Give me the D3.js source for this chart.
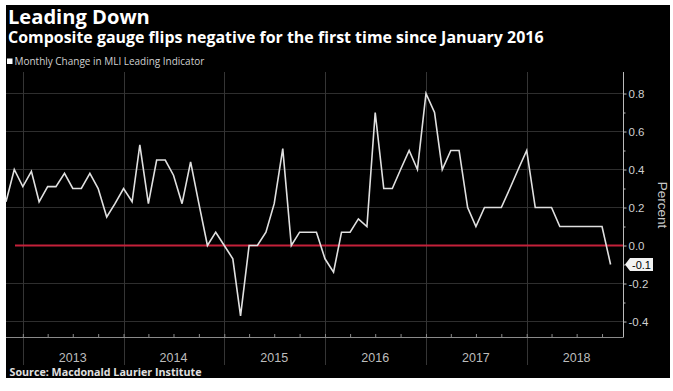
<!DOCTYPE html>
<html><head><meta charset="utf-8">
<script src="https://cdn.jsdelivr.net/npm/d3@7"></script>
<style>body{margin:0;background:#fff}svg{display:block}</style>
</head><body><svg id="c" width="673" height="391"></svg>
<script>
// ---- data ----
const firstMonth = "2012-11";
const values = [
  0.23, 0.40,                                                        // 2012 Nov-Dec
  0.31, 0.39, 0.23, 0.31, 0.31, 0.38, 0.30, 0.30, 0.38, 0.30, 0.15, 0.22, // 2013
  0.30, 0.23, 0.53, 0.22, 0.45, 0.45, 0.37, 0.22, 0.44, 0.22, 0.00, 0.07, // 2014
  0.00, -0.07, -0.37, 0.00, 0.00, 0.07, 0.22, 0.51, 0.00, 0.07, 0.07, 0.07, // 2015
  -0.07, -0.14, 0.07, 0.07, 0.14, 0.10, 0.70, 0.30, 0.30, 0.40, 0.50, 0.40, // 2016
  0.80, 0.70, 0.40, 0.50, 0.50, 0.20, 0.10, 0.20, 0.20, 0.20, 0.30, 0.40, // 2017
  0.50, 0.20, 0.20, 0.20, 0.10, 0.10, 0.10, 0.10, 0.10, 0.10, -0.10        // 2018 Jan-Nov
];
const yearLabels = ["2013", "2014", "2015", "2016", "2017", "2018"];
const yMajorTicks = [-0.4, -0.2, 0.0, 0.2, 0.4, 0.6, 0.8];
const yMinorTicks = [-0.3, -0.1, 0.1, 0.3, 0.5, 0.7];
const seriesName = "Monthly Change in MLI Leading Indicator";
const lastLabel = "-0.1";

// ---- layout ----
const svg = d3.select("#c");
const W = 673, H = 391;
const panel = {x: 6, y: 5, w: 664, h: 373};
const plot = {left: 6, right: 623, top: 72, bottom: 337};

svg.append("rect").attr("width", W).attr("height", H).attr("fill", "#fff");
svg.append("rect").attr("x", panel.x).attr("y", panel.y).attr("width", panel.w).attr("height", panel.h).attr("fill", "#000");

const parse = d3.timeParse("%Y-%m");
const start = parse(firstMonth);
const dates = values.map((v, i) => d3.timeMonth.offset(start, i));
const data = dates.map((d, i) => ({date: d, value: values[i]}));

const x = d3.scaleTime()
  .domain([start, new Date(2018, 11, 16)])
  .range([plot.left, plot.right]);
const y = d3.scaleLinear().domain([-0.4, 0.8]).range([321.5, 93.5]);

const FONT = "'Open Sans', 'DejaVu Sans', sans-serif";

// horizontal grid
svg.append("g").selectAll("line").data(yMajorTicks.filter(d => d !== 0)).join("line")
  .attr("x1", plot.left).attr("x2", plot.right)
  .attr("y1", d => y(d)).attr("y2", d => y(d))
  .attr("stroke", "#2e2e2e").attr("stroke-width", 1);

// year dividers
const yearStarts = yearLabels.map(s => new Date(+s, 0, 1));
svg.append("g").selectAll("line").data(yearStarts).join("line")
  .attr("x1", d => Math.round(x(d)) + 0.5).attr("x2", d => Math.round(x(d)) + 0.5)
  .attr("y1", plot.top).attr("y2", 365)
  .attr("stroke", "#353535").attr("stroke-width", 1);

// x axis line with quarter ticks
const xAxis = d3.axisBottom(x)
  .tickValues(d3.timeMonth.every(3).range(new Date(2013, 0, 1), new Date(2018, 11, 1)))
  .tickSize(-3).tickFormat("");
const gx = svg.append("g").attr("transform", `translate(0,${plot.bottom})`).call(xAxis);
gx.select(".domain").attr("stroke", "#8a8a8a").attr("d", `M${plot.left},0.5H${plot.right}`);
gx.selectAll(".tick line").attr("stroke", "#8a8a8a");

// year labels
svg.append("g").selectAll("text").data(yearLabels).join("text")
  .attr("x", d => x(new Date(+d, 6, 1)))
  .attr("y", 361.5)
  .attr("text-anchor", "middle")
  .attr("font-family", "'Liberation Sans', Arial, sans-serif")
  .attr("font-size", 12.5)
  .attr("fill", "#bdbdbd")
  .text(d => d);

// zero line
svg.append("line")
  .attr("x1", 15).attr("x2", plot.right)
  .attr("y1", y(0)).attr("y2", y(0))
  .attr("stroke", "#c4213a").attr("stroke-width", 1.8);

// series line
svg.append("path").datum(data)
  .attr("fill", "none").attr("stroke", "#e0e0e0").attr("stroke-width", 1.6)
  .attr("stroke-linejoin", "miter")
  .attr("d", d3.line().x(d => x(d.date)).y(d => y(d.value)));

// y axis (right)
const gyMinor = svg.append("g").attr("transform", `translate(${plot.right},0)`)
  .call(d3.axisRight(y).tickValues(yMinorTicks).tickSize(2.5).tickFormat(""));
gyMinor.select(".domain").remove();
gyMinor.selectAll(".tick line").attr("stroke", "#bbb");

const gy = svg.append("g").attr("transform", `translate(${plot.right},0)`)
  .call(d3.axisRight(y).tickValues(yMajorTicks).tickSize(3.5).tickPadding(2)
    .tickFormat(d => d.toFixed(1)));
gy.select(".domain").attr("stroke", "#bbb").attr("d", `M0.5,${plot.top}V${plot.bottom + 0.5}`);
gy.selectAll(".tick line").attr("stroke", "#bbb");
gy.selectAll(".tick text").attr("fill", "#d0d0d0")
  .attr("font-family", "'Liberation Sans', Arial, sans-serif").attr("font-size", 11.5);

// axis title
svg.append("text")
  .attr("transform", `translate(658,205) rotate(90)`)
  .attr("text-anchor", "middle")
  .attr("font-family", "'Liberation Sans', Arial, sans-serif")
  .attr("font-size", 13.5).attr("fill", "#c8c8c8")
  .text("Percent");

// last value label
const last = data[data.length - 1];
const ly = y(last.value);
svg.append("path")
  .attr("d", `M625,${ly} L630,${ly - 6.5} H653 V${ly + 6.5} H630 Z`)
  .attr("fill", "#f2f2f2");
svg.append("text")
  .attr("x", 641.5).attr("y", ly + 4)
  .attr("text-anchor", "middle")
  .attr("font-family", "'Liberation Sans', Arial, sans-serif")
  .attr("font-size", 11).attr("fill", "#000")
  .text(lastLabel);

// text helpers: fit a text to a target width
function fitWidth(sel, target) {
  const w = sel.node().getComputedTextLength();
  const fs = parseFloat(sel.attr("font-size"));
  sel.attr("font-size", (fs * target / w).toFixed(2));
}

// titles
const t1 = svg.append("text").attr("x", 8).attr("y", 23.5)
  .attr("font-family", FONT).attr("font-weight", "bold").attr("font-size", 19)
  .attr("fill", "#fff").text("Leading Down");
fitWidth(t1, 142);
const t2 = svg.append("text").attr("x", 8).attr("y", 42.5)
  .attr("font-family", FONT).attr("font-weight", "bold").attr("font-size", 14)
  .attr("fill", "#fff").text("Composite gauge flips negative for the first time since January 2016");
fitWidth(t2, 536);

// legend
svg.append("rect").attr("x", 7).attr("y", 58.5).attr("width", 5.5).attr("height", 5.5).attr("fill", "#fff");
const lt = svg.append("text").attr("x", 14.5).attr("y", 64.5)
  .attr("font-family", FONT).attr("font-size", 9.5)
  .attr("fill", "#d0d0d0").text(seriesName);
fitWidth(lt, 190);

// source
const src = svg.append("text").attr("x", 9.5).attr("y", 375.5)
  .attr("font-family", FONT).attr("font-weight", "bold").attr("font-size", 10)
  .attr("fill", "#e0e0e0").text("Source: Macdonald Laurier Institute");
fitWidth(src, 192);
</script>
</body></html>
